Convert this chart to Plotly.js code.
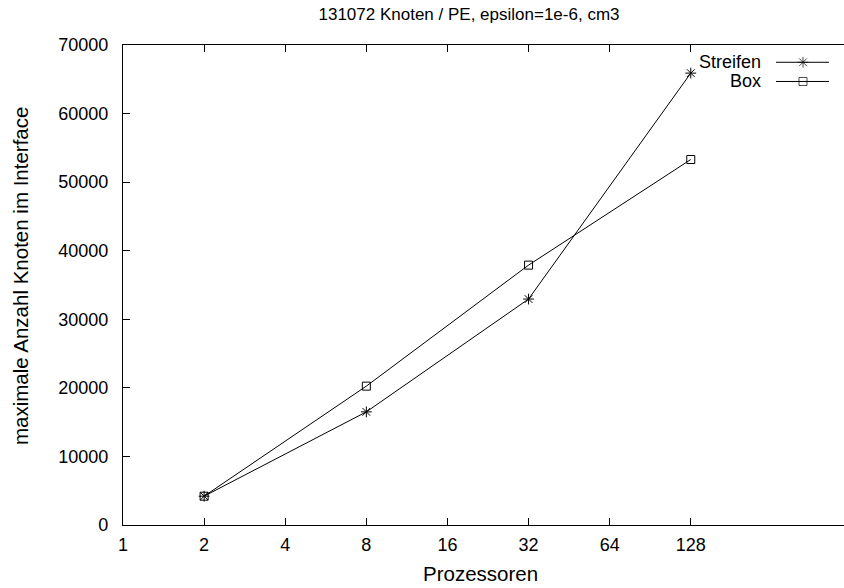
<!DOCTYPE html>
<html>
<head>
<meta charset="utf-8">
<script src="https://cdn.plot.ly/plotly-3.0.1.min.js"></script>
<style>html,body{margin:0;padding:0;background:#fff;overflow:hidden;}#chart{width:853px;height:588px;}</style>
</head>
<body>
<div id="chart"></div>
<script>
const processors = [2, 8, 32, 128];
const streifen = [4200, 16500, 32950, 65900];
const box = [4200, 20250, 37900, 53300];
const seriesNames = ["Streifen", "Box"];
const xTickVals = [1, 2, 4, 8, 16, 32, 64, 128];
const xTickText = ["1", "2", "4", "8", "16", "32", "64", "128"];
const yTickVals = [0, 10000, 20000, 30000, 40000, 50000, 60000, 70000];
const yTickText = ["0", "10000", "20000", "30000", "40000", "50000", "60000", "70000"];

const FONT = "Liberation Sans, Arial, Helvetica, sans-serif";
const line = {color: "#000", width: 1};
const W = 853, L = 123, PW = 730;

const traces = [
  {x: processors, y: streifen, name: seriesNames[0], mode: "lines+markers", line: line,
   marker: {symbol: "asterisk-open", size: 9, color: "#000", line: {color: "#000", width: 1}}, showlegend: false},
  {x: processors, y: box, name: seriesNames[1], mode: "lines+markers", line: line,
   marker: {symbol: "square-open", size: 8, color: "#000", line: {color: "#000", width: 1}}, showlegend: false},
  // legend samples on an overlay axis
  {x: [0.8945, 0.9315, 0.9671], y: [0.964, 0.964, 0.964], xaxis: "x2", yaxis: "y2", mode: "lines+markers",
   line: line, marker: {symbol: "asterisk-open", size: [0, 9, 0], color: "#000", line: {color: "#000", width: 1}},
   showlegend: false, hoverinfo: "skip"},
  {x: [0.8945, 0.9315, 0.9671], y: [0.924, 0.924, 0.924], xaxis: "x2", yaxis: "y2", mode: "lines+markers",
   line: line, marker: {symbol: "square-open", size: [0, 8, 0], color: "#000", line: {color: "#000", width: 1}},
   showlegend: false, hoverinfo: "skip"}
];

const layout = {
  width: W, height: 588,
  margin: {l: L, r: 0, t: 45, b: 63},
  paper_bgcolor: "#fff", plot_bgcolor: "#fff",
  font: {family: FONT, size: 18, color: "#000"},
  showlegend: false,
  title: {text: "131072 Knoten / PE, epsilon=1e-6, cm3", font: {family: FONT, size: 17, color: "#000"},
          x: 469 / W, xref: "container", xanchor: "center", y: 1 - 14 / 588, yref: "container", yanchor: "middle"},
  xaxis: {type: "log", range: [0, Math.log10(512)], tickvals: xTickVals, ticktext: xTickText,
          ticks: "inside", ticklen: 7, tickcolor: "#000", showline: true, linecolor: "#000", linewidth: 1.2,
          mirror: "allticks", showgrid: false, zeroline: false, tickfont: {family: FONT, size: 18},
          ticklabelstandoff: 3},
  yaxis: {range: [0, 70000], tickvals: yTickVals, ticktext: yTickText, ticks: "inside", ticklen: 7, tickcolor: "#000",
          showline: true, linecolor: "#000", linewidth: 1.2, mirror: "allticks", showgrid: false, zeroline: false,
          tickfont: {family: FONT, size: 18}, ticklabelstandoff: 10},
  xaxis2: {overlaying: "x", range: [0, 1], visible: false, fixedrange: true},
  yaxis2: {overlaying: "y", range: [0, 1], visible: false, fixedrange: true},
  annotations: [
    {text: seriesNames[0], xref: "paper", yref: "paper", x: 0.8767, y: 0.964, xanchor: "right", yanchor: "middle",
     showarrow: false, font: {family: FONT, size: 18}},
    {text: seriesNames[1], xref: "paper", yref: "paper", x: 0.8767, y: 0.924, xanchor: "right", yanchor: "middle",
     showarrow: false, font: {family: FONT, size: 18}},
    {text: "Prozessoren", xref: "paper", yref: "paper", x: (480 - L) / PW, y: (525 - 573) / 480,
     xanchor: "center", yanchor: "middle", showarrow: false, font: {family: FONT, size: 20.5}},
    {text: "maximale Anzahl Knoten im Interface", xref: "paper", yref: "paper", x: (20 - L) / PW, y: (525 - 276) / 480,
     xanchor: "center", yanchor: "middle", textangle: -90, showarrow: false, font: {family: FONT, size: 20.5}}
  ]
};

Plotly.newPlot("chart", traces, layout, {displayModeBar: false, staticPlot: true});
</script>
</body>
</html>
